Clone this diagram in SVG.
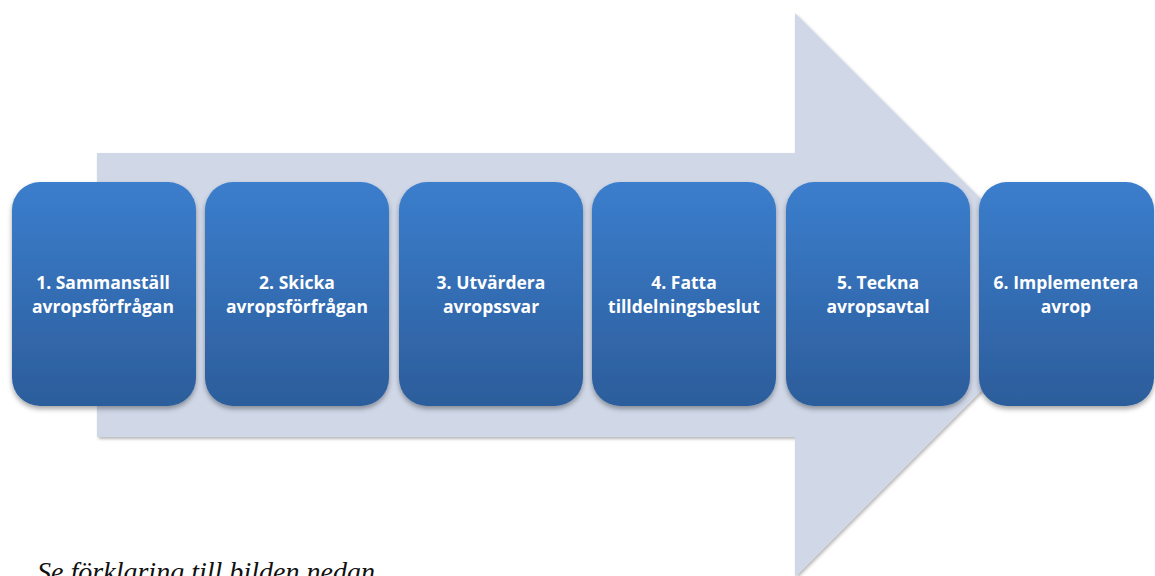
<svg xmlns="http://www.w3.org/2000/svg" width="1155" height="576" viewBox="0 0 1155 576">
  <defs>
    <linearGradient id="boxGrad" x1="0" y1="0" x2="0" y2="1">
      <stop offset="0" stop-color="#3b7ecd"/>
      <stop offset="1" stop-color="#2c5d9b"/>
    </linearGradient>
    <filter id="arrowShadow" x="-5%" y="-5%" width="110%" height="110%">
      <feDropShadow dx="1.5" dy="2" stdDeviation="1.5" flood-color="#000" flood-opacity="0.28"/>
    </filter>
    <filter id="boxShadow" x="-10%" y="-10%" width="120%" height="120%">
      <feDropShadow dx="0" dy="3" stdDeviation="2.5" flood-color="#000" flood-opacity="0.35"/>
    </filter>
    <style>
      .box { fill: url(#boxGrad); filter: url(#boxShadow); }
      .lbl { font-family: "Open Sans", "Liberation Sans", sans-serif; font-weight: bold; font-size: 17.5px; fill: #ffffff; text-anchor: middle; }
      .note { font-family: "Liberation Serif", serif; font-style: italic; font-size: 27px; fill: #111111; }
    </style>
  </defs>
  <rect width="1155" height="576" fill="#ffffff"/>
  <g id="connectors">
    <path id="big-arrow" d="M97,153 L795,153 L795,13 L1077,295 L795,577 L795,437 L97,437 Z" fill="#d0d8e8" filter="url(#arrowShadow)"/>
  </g>
  <g id="node1">
    <rect class="box" x="12" y="182" width="184" height="224" rx="28"/>
    <text class="lbl" x="103" y="289">1. Sammanställ</text>
    <text class="lbl" x="103" y="313">avropsförfrågan</text>
  </g>
  <g id="node2">
    <rect class="box" x="205" y="182" width="184" height="224" rx="28"/>
    <text class="lbl" x="297" y="289">2. Skicka</text>
    <text class="lbl" x="297" y="313">avropsförfrågan</text>
  </g>
  <g id="node3">
    <rect class="box" x="399" y="182" width="184" height="224" rx="28"/>
    <text class="lbl" x="491" y="289">3. Utvärdera</text>
    <text class="lbl" x="491" y="313">avropssvar</text>
  </g>
  <g id="node4">
    <rect class="box" x="592" y="182" width="184" height="224" rx="28"/>
    <text class="lbl" x="684" y="289">4. Fatta</text>
    <text class="lbl" x="684" y="313">tilldelningsbeslut</text>
  </g>
  <g id="node5">
    <rect class="box" x="786" y="182" width="184" height="224" rx="28"/>
    <text class="lbl" x="878" y="289">5. Teckna</text>
    <text class="lbl" x="878" y="313">avropsavtal</text>
  </g>
  <g id="node6">
    <rect class="box" x="979" y="182" width="175" height="224" rx="28"/>
    <text class="lbl" x="1066" y="289">6. Implementera</text>
    <text class="lbl" x="1066" y="313">avrop</text>
  </g>
  <text class="note" x="37" y="581" textLength="338" lengthAdjust="spacingAndGlyphs">Se förklaring till bilden nedan</text>
</svg>
